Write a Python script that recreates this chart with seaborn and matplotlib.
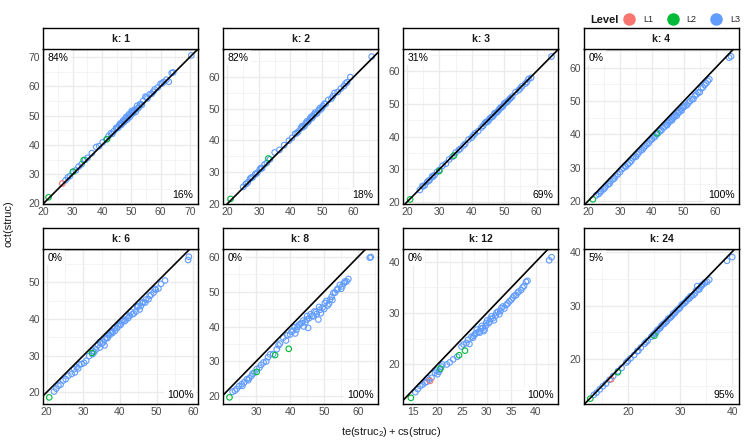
import numpy as np
import pandas as pd
import matplotlib
matplotlib.use("Agg")
import matplotlib.pyplot as plt
import seaborn as sns
from matplotlib.ticker import MultipleLocator
from matplotlib.lines import Line2D

sns.set_theme(style="white")
plt.rcParams["font.family"] = ["Liberation Sans", "DejaVu Sans"]
plt.rcParams["mathtext.fontset"] = "custom"
plt.rcParams["mathtext.rm"] = "Liberation Sans"

# facets and corner labels
ks = [1, 2, 3, 4, 6, 8, 12, 24]
pct_above = ["84%", "82%", "31%", "0%", "0%", "0%", "0%", "5%"]
pct_below = ["16%", "18%", "69%", "100%", "100%", "100%", "100%", "95%"]
levels = ["L1", "L2", "L3"]

# L3 points (x = te(struc2)+cs(struc), y = oct(struc))
k1_x = [27.5, 28.3, 29.0, 30.2, 31.0, 32.0, 33.0, 34.2, 35.0, 36.5, 38.0, 39.0, 40.2, 41.5, 43.0, 44.0,
        44.8, 45.5, 46.2, 46.8, 47.3, 47.8, 48.3, 48.8, 49.2, 49.7, 50.1, 50.6, 51.0, 51.5, 52.0, 52.6,
        53.2, 54.0, 54.8, 55.5, 56.3, 57.0, 58.0, 59.0, 60.0, 61.0, 62.0, 62.8, 63.8, 64.3, 70.5]
k1_y = [27.9, 28.9, 29.4, 30.9, 31.3, 32.6, 33.4, 34.9, 35.6, 37.2, 39.3, 39.6, 40.9, 41.9, 44.0, 44.7,
        45.8, 45.9, 47.3, 47.2, 48.4, 48.3, 49.6, 49.2, 50.5, 50.1, 51.6, 50.9, 51.8, 51.3, 53.4, 52.9,
        54.0, 55.0, 56.5, 55.9, 57.3, 57.5, 59.0, 59.6, 60.9, 61.5, 62.3, 61.6, 64.6, 64.8, 70.6]
k1_xb = [45.0, 45.8, 46.5, 47.0, 47.6, 48.0, 48.6, 49.0, 49.5, 50.3, 50.8, 51.3, 52.3, 53.0, 53.6, 55.2,
         57.5, 60.5, 43.5, 42.2]
k1_yb = [45.6, 46.7, 46.8, 48.0, 47.9, 49.1, 48.7, 50.0, 49.6, 51.2, 51.5, 52.2, 52.5, 53.9, 53.7, 56.3,
         58.2, 61.0, 43.8, 43.0]
k2_x = [25.0, 25.8, 26.5, 27.2, 28.0, 28.8, 29.5, 30.3, 31.0, 31.8, 32.5, 33.5, 35.0, 36.5, 38.0, 39.5,
        40.5, 41.5, 42.5, 43.3, 44.0, 44.8, 45.5, 46.2, 46.9, 47.5, 48.2, 48.9, 49.6, 50.3, 51.2, 52.0,
        53.0, 54.0, 55.0, 56.0, 57.0, 58.0, 59.0, 65.8]
k2_y = [25.3, 26.2, 26.8, 27.9, 28.3, 29.3, 29.8, 30.9, 31.2, 32.4, 32.9, 34.0, 36.2, 37.0, 38.5, 39.9,
        40.8, 42.1, 42.8, 43.9, 44.2, 45.4, 45.7, 46.9, 47.1, 48.2, 48.4, 49.5, 49.8, 50.9, 51.5, 52.8,
        53.2, 55.0, 55.3, 56.4, 57.2, 58.4, 60.0, 66.5]
k2_xb = [42.0, 43.7, 44.5, 45.2, 45.9, 46.6, 47.2, 47.8, 48.5, 49.3, 50.0, 50.8, 26.0, 27.6, 29.0, 30.7,
         53.5, 57.5]
k2_yb = [42.3, 44.5, 44.6, 46.0, 46.2, 47.5, 47.6, 48.8, 48.6, 50.2, 50.2, 51.6, 26.3, 28.3, 29.4, 31.3,
         54.0, 58.0]
k3_x = [24.0, 24.8, 25.5, 26.3, 27.0, 27.8, 28.5, 29.3, 30.0, 31.0, 32.0, 33.0, 34.0, 35.0, 36.5, 38.0,
        39.0, 40.0, 41.0, 42.0, 43.0, 44.0, 44.8, 45.5, 46.3, 47.0, 47.8, 48.5, 49.3, 50.0, 50.8, 51.7,
        52.5, 53.5, 54.5, 55.5, 56.5, 57.5, 58.3, 64.6]
k3_y = [23.7, 24.9, 25.1, 26.2, 26.7, 27.9, 28.2, 29.2, 29.8, 31.1, 31.7, 33.0, 33.8, 35.1, 36.3, 37.8,
        39.1, 39.7, 41.0, 41.7, 42.8, 44.1, 44.5, 45.5, 46.0, 47.1, 47.5, 48.4, 49.0, 50.1, 50.5, 51.5,
        52.3, 53.6, 54.2, 55.4, 56.2, 57.6, 58.0, 64.5]
k3_xb = [43.5, 44.4, 45.2, 46.0, 46.7, 47.4, 48.2, 48.9, 49.7, 50.4, 51.2, 52.0, 55.0, 57.0, 25.0, 26.7,
         28.0, 36.0, 37.5, 40.5]
k3_yb = [43.3, 44.5, 44.9, 45.9, 46.4, 47.3, 47.9, 48.9, 49.4, 50.4, 51.0, 51.8, 54.8, 56.7, 24.8, 26.5,
         27.7, 35.9, 37.3, 40.4]
k4_x = [22.5, 23.3, 24.0, 24.8, 25.5, 26.3, 27.0, 27.8, 28.5, 29.3, 30.0, 31.0, 31.8, 33.0, 34.0, 35.0,
        36.0, 37.0, 38.0, 39.0, 40.0, 41.0, 42.0, 43.0, 44.0, 44.8, 45.5, 46.3, 47.0, 47.8, 48.5, 49.3,
        50.0, 51.0, 52.0, 53.0, 54.0, 55.0, 56.0, 57.0, 58.0, 64.2, 64.8]
k4_y = [21.7, 22.1, 23.0, 23.5, 24.4, 25.0, 25.9, 26.5, 27.4, 28.0, 28.7, 29.9, 30.3, 31.5, 32.8, 33.3,
        34.7, 35.4, 36.6, 37.4, 38.5, 39.3, 40.4, 41.2, 42.3, 42.8, 43.8, 44.2, 45.2, 45.6, 46.6, 47.1,
        48.2, 48.8, 50.0, 50.6, 52.0, 52.6, 54.1, 55.3, 56.5, 63.0, 63.4]
k4_xb = [30.5, 31.5, 32.5, 33.5, 34.5, 35.5, 36.5, 37.5, 38.5, 39.5, 40.5, 41.5, 42.5, 43.5, 44.4, 45.2,
         46.0, 46.7, 47.4, 48.2, 49.0, 49.7, 50.5, 51.5, 52.5, 53.5, 54.5, 55.5, 56.5, 57.5, 23.8, 25.2,
         26.7, 28.2]
k4_yb = [29.5, 30.5, 31.0, 32.0, 33.2, 34.0, 35.2, 36.0, 37.0, 38.2, 39.0, 40.0, 41.0, 42.0, 42.9, 43.5,
         44.4, 45.0, 45.8, 46.4, 47.3, 48.0, 48.6, 49.5, 50.5, 51.6, 52.6, 53.8, 54.8, 56.0, 22.6, 23.9,
         25.2, 26.8]
k6_x = [22.0, 22.6, 23.2, 23.8, 24.5, 25.2, 25.9, 26.8, 27.7, 28.2, 28.6, 29.5, 30.2, 30.8, 31.6, 32.5,
        32.6, 33.5, 34.5, 34.5, 35.4, 36.3, 36.9, 37.6, 38.0, 38.5, 39.2, 39.9, 40.5, 41.2, 41.8, 42.6,
        43.4, 44.4, 45.0, 45.7, 46.4, 47.1, 47.8, 48.5, 49.2, 49.8, 50.5, 51.2, 52.3, 58.6, 58.8]
k6_y = [20.2, 21.0, 21.8, 22.1, 23.2, 23.6, 24.5, 25.0, 25.4, 26.9, 26.5, 27.7, 28.0, 28.6, 29.9, 30.4,
        31.3, 31.7, 32.2, 33.7, 33.6, 34.9, 35.7, 36.3, 36.2, 37.6, 37.5, 38.5, 39.4, 39.4, 40.8, 40.8,
        41.3, 42.1, 43.5, 43.5, 44.6, 45.3, 45.4, 46.6, 47.2, 48.0, 48.3, 49.6, 50.5, 56.1, 57.0]
k6_xb = [33.0, 34.0, 35.0, 35.9, 36.6, 37.2, 37.9, 38.7, 39.5, 40.2, 40.9, 41.5, 42.2, 43.0, 43.8, 44.7,
         45.4, 46.1, 46.9, 48.1, 49.5, 27.5, 28.9, 35.8]
k6_yb = [31.0, 32.9, 33.2, 34.5, 34.8, 35.6, 36.6, 36.8, 38.0, 38.4, 39.8, 39.6, 40.2, 41.9, 41.5, 43.3,
         42.6, 44.4, 44.5, 46.3, 48.2, 26.3, 27.6, 32.8]
k8_x = [23.1, 23.8, 24.3, 25.0, 25.8, 26.5, 27.3, 28.0, 28.7, 29.5, 30.2, 31.0, 32.2, 33.0, 34.1, 35.0,
        36.1, 37.0, 38.0, 38.8, 40.0, 40.8, 41.9, 42.5, 43.4, 44.0, 44.9, 45.3, 46.0, 46.8, 47.5, 48.3,
        48.8, 49.5, 50.2, 51.0, 51.7, 52.2, 52.7, 53.7, 54.6, 55.3, 56.1, 57.1, 63.4, 63.7]
k8_y = [21.3, 21.6, 22.1, 22.9, 23.5, 24.0, 24.9, 25.2, 25.9, 26.8, 27.8, 28.2, 29.7, 30.0, 32.0, 32.1,
        33.5, 35.1, 36.8, 36.0, 37.7, 38.8, 39.1, 40.4, 41.0, 40.0, 42.0, 39.6, 43.5, 42.9, 44.1, 42.0,
        44.8, 45.4, 46.7, 46.0, 47.7, 48.5, 49.6, 50.5, 51.9, 51.5, 52.9, 53.6, 59.7, 59.9]
k8_xb = [39.2, 40.4, 41.3, 41.5, 42.2, 43.0, 43.8, 44.5, 45.0, 45.6, 46.4, 47.1, 47.8, 48.5, 49.0, 50.0,
         50.6, 51.4, 52.4, 53.2, 54.0, 55.0, 55.8, 56.6, 26.0, 27.7, 29.0, 31.5, 33.5, 36.6]
k8_yb = [37.5, 38.5, 39.8, 38.0, 39.9, 40.8, 41.7, 41.2, 43.0, 42.4, 43.0, 44.3, 43.6, 45.6, 43.8, 45.0,
         47.3, 46.5, 47.6, 49.7, 50.8, 50.8, 52.4, 52.9, 23.0, 24.6, 26.5, 29.0, 31.2, 34.6]
k12_x = [15.5, 16.0, 16.5, 17.0, 17.5, 18.0, 18.8, 19.5, 20.0, 20.5, 21.0, 21.9, 22.5, 23.2, 24.0, 24.9,
         25.3, 25.9, 26.5, 27.2, 27.6, 27.9, 28.4, 28.8, 29.2, 29.6, 29.9, 30.4, 30.8, 31.3, 31.8, 32.3,
         32.8, 33.3, 34.0, 34.6, 35.3, 36.0, 36.5, 37.0, 37.6, 38.0, 38.3, 42.7, 43.2]
k12_y = [14.6, 15.2, 15.8, 16.1, 16.5, 17.3, 17.4, 18.4, 18.1, 19.0, 20.0, 20.0, 20.4, 21.0, 21.5, 23.5,
         23.9, 24.2, 24.0, 25.2, 25.9, 26.1, 26.4, 27.0, 27.1, 26.8, 28.1, 28.0, 28.9, 29.0, 29.5, 30.3,
         30.4, 31.3, 31.6, 32.3, 33.0, 33.5, 34.2, 34.5, 35.3, 36.1, 36.3, 40.3, 40.9]
k12_xb = [26.2, 26.9, 27.4, 28.0, 28.6, 29.0, 29.4, 29.8, 30.1, 30.6, 31.0, 31.5, 32.0, 32.6, 33.0, 33.6,
          34.3, 35.0, 35.6, 36.3, 37.3, 19.8, 20.3, 20.8, 17.8, 18.3]
k12_yb = [24.8, 25.4, 25.6, 26.8, 26.2, 27.5, 26.5, 27.5, 28.6, 28.3, 29.4, 28.6, 30.1, 29.8, 31.0, 30.9,
          31.9, 32.6, 33.4, 34.0, 35.0, 18.8, 18.6, 19.6, 16.6, 17.0]
k24_x = [13.5, 14.0, 14.6, 15.2, 15.8, 16.5, 17.2, 18.1, 18.8, 19.7, 20.5, 21.2, 21.8, 22.5, 23.2, 23.8,
         24.5, 25.1, 25.6, 26.2, 26.7, 27.2, 27.7, 28.2, 28.7, 29.2, 29.8, 30.3, 30.9, 31.5, 32.0, 32.6,
         33.1, 33.3, 33.7, 34.2, 34.8, 35.6, 39.0, 40.0]
k24_y = [13.4, 13.8, 14.4, 15.0, 15.5, 16.2, 16.9, 17.8, 18.4, 19.4, 20.2, 20.8, 21.5, 22.2, 22.9, 23.5,
         24.2, 24.8, 25.4, 25.8, 26.5, 26.9, 27.5, 27.8, 28.5, 28.9, 29.4, 30.1, 30.5, 31.2, 31.7, 32.0,
         32.8, 33.6, 33.0, 33.8, 34.3, 34.8, 38.3, 39.0]
k24_xb = [24.8, 25.4, 25.9, 26.4, 27.0, 27.5, 28.0, 28.5, 29.0, 29.5, 30.0, 30.6, 31.2, 31.8, 32.3, 32.9,
          33.5, 34.0, 34.5, 35.2, 20.0, 22.0, 23.5]
k24_yb = [24.5, 24.9, 25.6, 26.2, 26.6, 27.1, 27.7, 28.1, 28.6, 29.2, 29.6, 30.3, 30.8, 31.3, 31.8, 32.3,
          33.0, 33.5, 34.0, 34.4, 19.7, 21.6, 23.2]

# L2 points
k1_l2_x, k1_l2_y = [21.7, 33.7, 41.7, 30.0], [22.1, 34.8, 42.0, 30.8]
k2_l2_x, k2_l2_y = [21.0, 33.0], [21.5, 34.3]
k3_l2_x, k3_l2_y = [21.0, 30.0, 34.5], [20.8, 29.5, 34.2]
k4_l2_x, k4_l2_y = [21.5, 41.5], [20.5, 40.3]
k6_l2_x, k6_l2_y = [20.7, 32.4], [18.6, 30.7]
k8_l2_x, k8_l2_y = [22.2, 30.2, 35.6, 39.6], [19.7, 27.0, 31.8, 33.6]
k12_l2_x, k12_l2_y = [14.6, 20.6, 24.4, 25.6], [13.5, 19.2, 21.8, 22.7]
k24_l2_x, k24_l2_y = [12.8, 18.1, 25.1], [12.7, 17.6, 24.4]

# L1 points
k1_l1_x, k1_l1_y = [26.4], [26.8]
k12_l1_x, k12_l1_y = [18.5], [16.8]
k24_l1_x, k24_l1_y = [16.8], [16.3]

l3 = {1: (k1_x + k1_xb, k1_y + k1_yb), 2: (k2_x + k2_xb, k2_y + k2_yb),
      3: (k3_x + k3_xb, k3_y + k3_yb), 4: (k4_x + k4_xb, k4_y + k4_yb),
      6: (k6_x + k6_xb, k6_y + k6_yb), 8: (k8_x + k8_xb, k8_y + k8_yb),
      12: (k12_x + k12_xb, k12_y + k12_yb), 24: (k24_x + k24_xb, k24_y + k24_yb)}
l2 = {1: (k1_l2_x, k1_l2_y), 2: (k2_l2_x, k2_l2_y), 3: (k3_l2_x, k3_l2_y), 4: (k4_l2_x, k4_l2_y),
      6: (k6_l2_x, k6_l2_y), 8: (k8_l2_x, k8_l2_y), 12: (k12_l2_x, k12_l2_y), 24: (k24_l2_x, k24_l2_y)}
l1 = {1: (k1_l1_x, k1_l1_y), 12: (k12_l1_x, k12_l1_y), 24: (k24_l1_x, k24_l1_y)}

rows = []
for k in ks:
    for lv, src in (("L3", l3), ("L2", l2), ("L1", l1)):
        if k in src:
            for x, y in zip(*src[k]):
                rows.append({"k": k, "Level": lv, "x": x, "y": y})
df = pd.DataFrame(rows)

palette = {"L1": "#F8766D", "L2": "#00BA38", "L3": "#619CFF"}

# axis ranges per panel (x range, y range)
lims = {1: ((19.8, 72.8), (19.8, 72.8)), 2: ((18.6, 67.8), (19.9, 68.9)),
        3: ((18.8, 66.6), (19.4, 66.8)), 4: ((18.7, 67.3), (19.1, 65.6)),
        6: ((19.0, 61.3), (16.8, 59.1)), 8: ((20.3, 65.8), (17.8, 62.2)),
        12: ((13.0, 44.5), (12.3, 42.5)), 24: ((11.6, 41.3), (11.7, 40.5))}

W, H = 747, 448
fig = plt.figure(figsize=(W / 100, H / 100), dpi=100)
lefts = [43, 223, 403, 584]
tops = [49, 249]
pw, ph, sh = 155, 155, 21
grey = "#4D4D4D"

for i, k in enumerate(ks):
    l = lefts[i % 4]
    t = tops[i // 4]
    ax = fig.add_axes([l / W, 1 - (t + ph) / H, pw / W, ph / H])
    sub = df[df["k"] == k]
    sns.scatterplot(data=sub, x="x", y="y", hue="Level", palette=palette,
                    s=16, linewidth=0.8, legend=False, ax=ax, zorder=3)
    # open circles
    for coll in ax.collections:
        fc = coll.get_facecolors()
        coll.set_edgecolors(fc)
        coll.set_facecolors("none")
    ax.axline((0, 0), (1, 1), color="black", lw=1.2, zorder=4)
    (x0, x1), (y0, y1) = lims[k]
    ax.set_xlim(x0, x1)
    ax.set_ylim(y0, y1)
    step_x = 5 if k == 12 else 10
    ax.xaxis.set_major_locator(MultipleLocator(step_x))
    ax.xaxis.set_minor_locator(MultipleLocator(step_x / 2))
    ax.yaxis.set_major_locator(MultipleLocator(10))
    ax.yaxis.set_minor_locator(MultipleLocator(5))
    ax.grid(which="major", color="#EBEBEB", lw=1.0, zorder=0)
    ax.grid(which="minor", color="#F2F2F2", lw=0.6, zorder=0)
    ax.set_axisbelow(True)
    ax.tick_params(which="both", length=0, labelsize=7.5, labelcolor=grey, pad=2)
    ax.set_xlabel("")
    ax.set_ylabel("")
    for sp in ax.spines.values():
        sp.set_color("black")
        sp.set_linewidth(1.0)
    bb = dict(boxstyle="square,pad=0.25", fc="white", ec="none")
    ax.text(0.03, 0.945, pct_above[i], transform=ax.transAxes, ha="left", va="center",
            fontsize=7.5, color="black", bbox=bb, zorder=5)
    ax.text(0.97, 0.055, pct_below[i], transform=ax.transAxes, ha="right", va="center",
            fontsize=7.5, color="black", bbox=bb, zorder=5)

    st = fig.add_axes([l / W, 1 - t / H, pw / W, sh / H])
    st.set_xticks([])
    st.set_yticks([])
    st.set_facecolor("white")
    for sp in st.spines.values():
        sp.set_color("black")
        sp.set_linewidth(1.0)
    st.text(0.5, 0.5, f"k: {k}", ha="center", va="center", fontsize=7.5,
            fontweight="bold", color="#1A1A1A", transform=st.transAxes)

fig.text(391.5 / W, 1 - 432 / H, r"$\mathrm{te(struc_2)+cs(struc)}$", ha="center",
         va="center", fontsize=8, color="#1A1A1A")
fig.text(9 / W, 1 - 224 / H, "oct(struc)", rotation=90, ha="center", va="center",
         fontsize=8, color="#1A1A1A")

# legend
fig.text(590 / W, 1 - 20 / H, "Level", ha="left", va="center", fontsize=8,
         fontweight="bold", color="#1A1A1A")
handles = [Line2D([], [], marker="o", ls="", color=palette[lv], markersize=8) for lv in levels]
fig.legend(handles, levels, ncol=3, loc="center left", bbox_to_anchor=(624 / W, 1 - 20 / H),
           frameon=False, fontsize=6.5, handletextpad=0.9, columnspacing=1.6,
           handlelength=1.2, borderaxespad=0, borderpad=0)

fig.savefig("out.png", dpi=100)
